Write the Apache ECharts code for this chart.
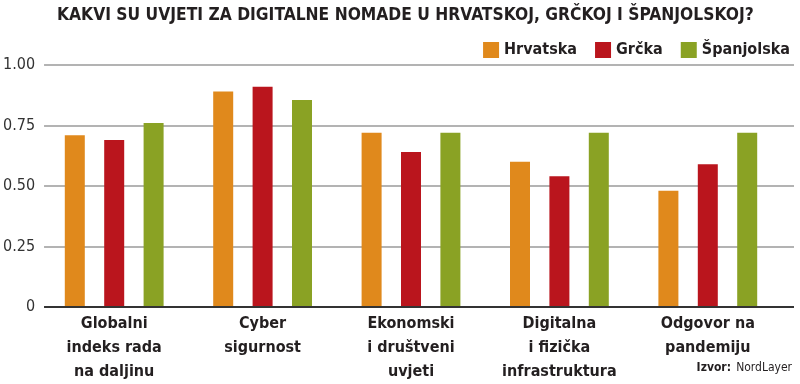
<!DOCTYPE html>
<html><head><meta charset="utf-8">
<script src="https://cdn.jsdelivr.net/npm/echarts@6/dist/echarts.min.js"></script>
<style>html,body{margin:0;padding:0;background:#fff}#c{width:800px;height:384px}</style>
</head><body><div id="c"></div>
<script>
const categories = ['Globalni\nindeks rada\nna daljinu', 'Cyber\nsigurnost', 'Ekonomski\ni društveni\nuvjeti', 'Digitalna\ni fizička\ninfrastruktura', 'Odgovor na\npandemiju'];
const seriesNames = ['Hrvatska', 'Grčka', 'Španjolska'];
const hrvatska = [0.71, 0.89, 0.72, 0.60, 0.48];
const grcka = [0.69, 0.91, 0.64, 0.54, 0.59];
const spanjolska = [0.76, 0.855, 0.72, 0.72, 0.72];
const yTicks = ['0', '0.25', '0.50', '0.75', '1.00'];
const colors = ['#E0891C', '#BA151D', '#8AA224'];
const FONT = '"DejaVu Sans Condensed", "Roboto", sans-serif';

const chart = echarts.init(document.getElementById('c'), null, {renderer: 'canvas'});
const values = [hrvatska, grcka, spanjolska];
chart.setOption({
  animation: false,
  textStyle: {fontFamily: FONT},
  title: [{
    text: 'KAKVI SU UVJETI ZA DIGITALNE NOMADE U HRVATSKOJ, GRČKOJ I ŠPANJOLSKOJ?',
    left: 52, top: 2,
    textStyle: {fontFamily: FONT, fontWeight: 'bold', fontSize: 17.3, color: '#231f20'}
  }, {
    text: '{b|Izvor:} {n|NordLayer}',
    right: 3, bottom: 2,
    textStyle: {fontWeight: 'normal', rich: {
      b: {fontFamily: FONT, fontWeight: 'bold', fontSize: 12, color: '#231f20'},
      n: {fontFamily: FONT, fontWeight: 'normal', fontSize: 12, color: '#231f20'}
    }}
  }],
  legend: {
    right: 5, top: 37,
    itemWidth: 16, itemHeight: 16, itemGap: 18,
    icon: 'rect',
    data: seriesNames,
    textStyle: {fontFamily: FONT, fontWeight: 'bold', fontSize: 16, color: '#231f20'}
  },
  grid: [
    {left: 44, right: 6, top: 65, bottom: 77},
    {left: 40, right: 18, top: 65, bottom: 77}
  ],
  xAxis: [
    {gridIndex: 0, type: 'value', min: 0, max: 1, show: true,
     axisLine: {show: false}, axisTick: {show: false}, axisLabel: {show: false}, splitLine: {show: false}},
    {gridIndex: 1, type: 'category', data: categories,
     axisLine: {show: false}, axisTick: {show: false},
     axisLabel: {margin: 5, fontFamily: FONT, fontWeight: 'bold', fontSize: 16, lineHeight: 24, color: '#231f20', interval: 0}}
  ],
  yAxis: [
    {gridIndex: 0, type: 'value', min: 0, max: 1, interval: 0.25,
     axisLine: {show: false}, axisTick: {show: false},
     axisLabel: {margin: 9, fontFamily: FONT, fontSize: 16, color: '#333',
       formatter: (v) => yTicks[Math.round(v / 0.25)]},
     splitLine: {lineStyle: {color: '#9a9a9a', width: 1.5}}},
    {gridIndex: 1, type: 'value', min: 0, max: 1, interval: 0.25, show: false}
  ],
  series: seriesNames.map((n, i) => ({
    name: n, type: 'bar', xAxisIndex: 1, yAxisIndex: 1,
    data: values[i], barWidth: 20, barGap: '97%',
    itemStyle: {color: colors[i]}
  })).concat([{
    type: 'line', xAxisIndex: 0, yAxisIndex: 0, data: [[0, 0], [1, 0]],
    symbol: 'none', lineStyle: {color: '#333', width: 2}, silent: true, z: 5
  }]),
  color: colors
});
</script></body></html>
